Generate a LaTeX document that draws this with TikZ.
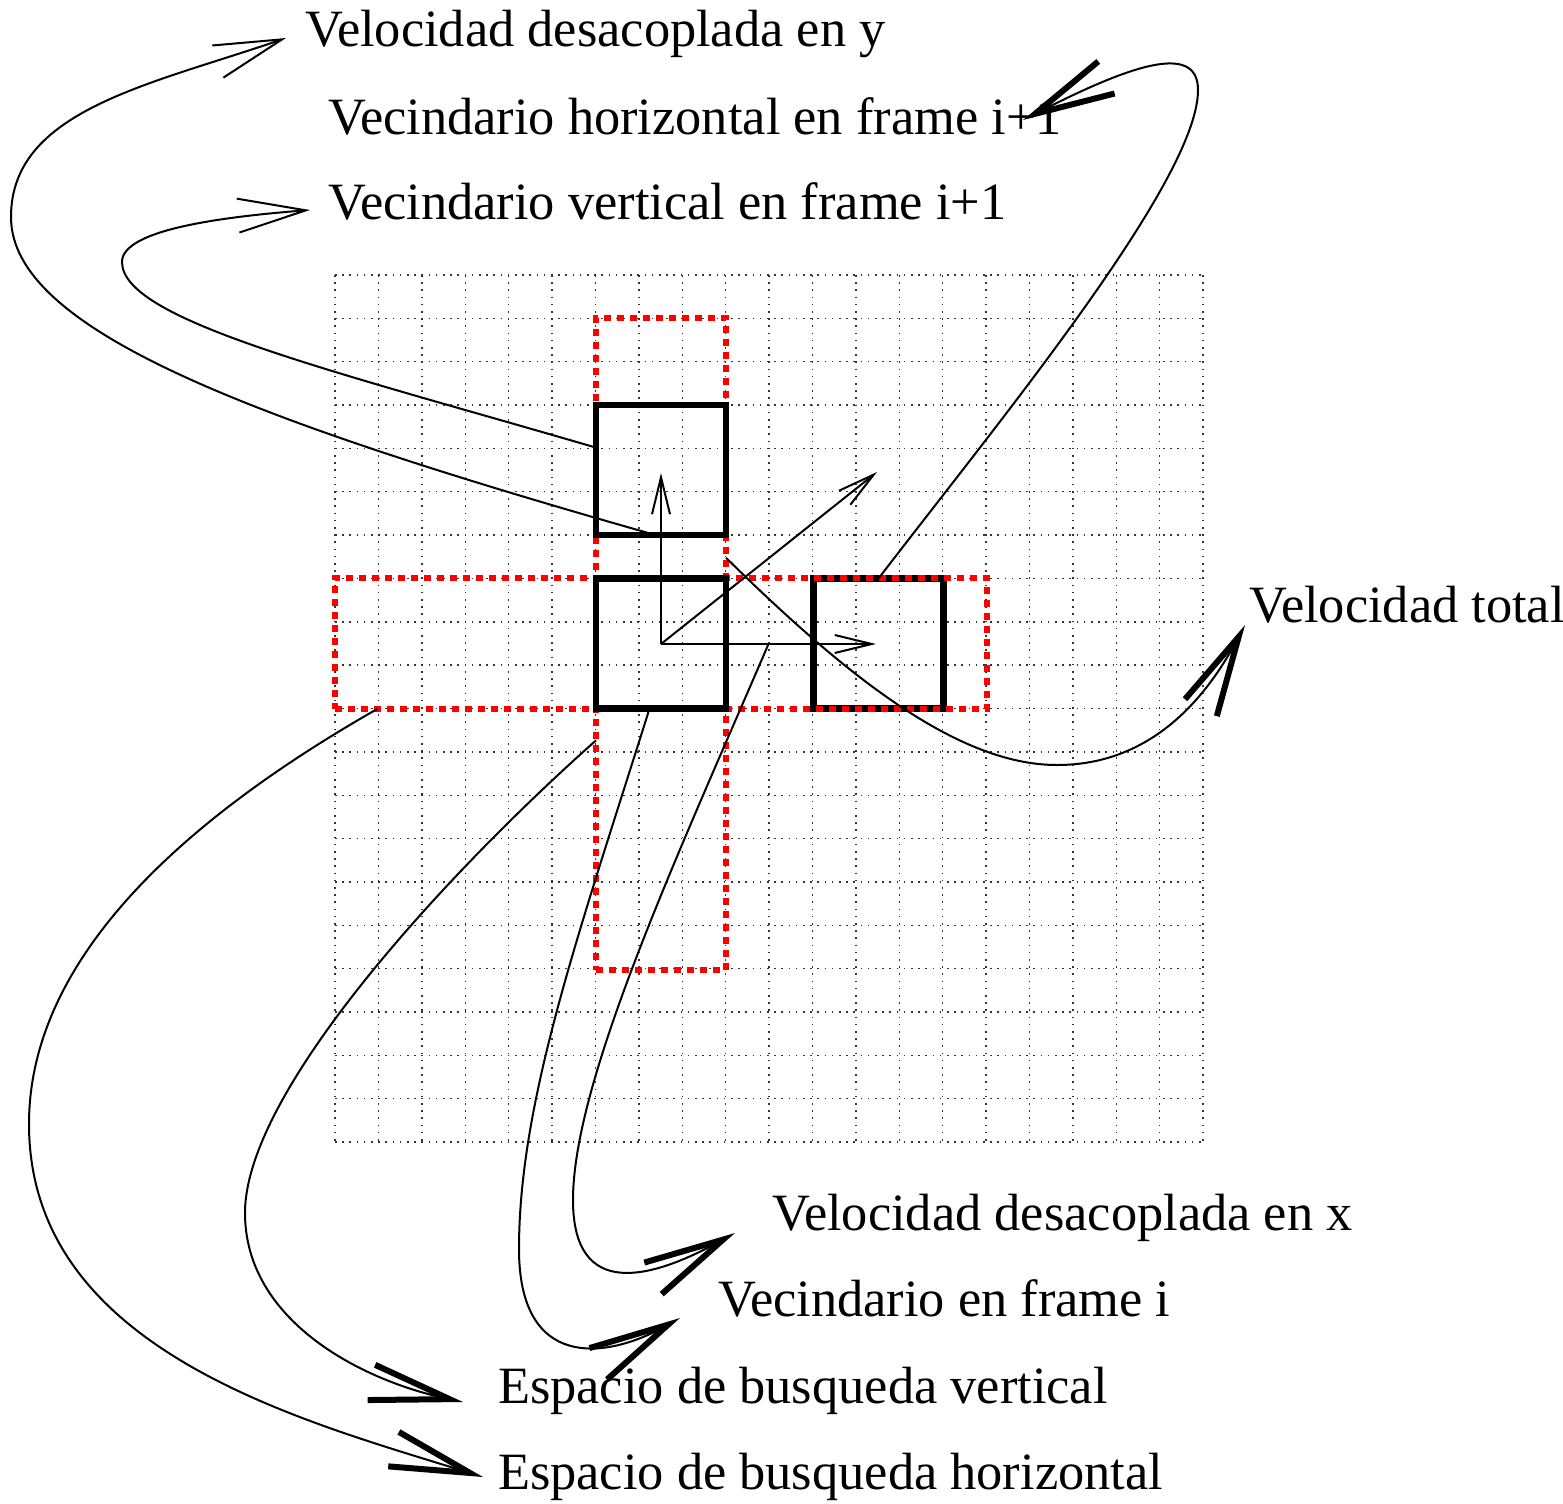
\documentclass[tikz,border=0pt]{standalone}
\usepackage{fontspec}
\setmainfont{Liberation Serif}
\usetikzlibrary{arrows.meta,calc}
\begin{document}
\begin{tikzpicture}[x=1pt,y=-1pt,
  gridline/.style={line width=1.4pt,black!80,dash pattern=on 1.5pt off 5.7pt},
  sq/.style={draw,line width=6.5pt,minimum width=130pt,minimum height=130pt,inner sep=0pt,outer sep=0pt},
  redbox/.style={draw=red,line width=6.5pt,dash pattern=on 7pt off 6pt,inner sep=0pt,outer sep=0pt},
  conn/.style={line width=2pt},
  thinhead/.style={-{Straight Barb[length=68pt,width=34pt,sharp]}},
  thickhead/.style={-{Straight Barb[length=80pt,width=36pt,line width=6pt,sharp]}},
  smallhead/.style={-{Straight Barb[length=37pt,width=18pt,sharp]}},
  lbl/.style={anchor=base west,inner sep=0pt,outer sep=0pt,font=\fontsize{52.4}{60}\selectfont}
]
\useasboundingbox (0,0) rectangle (1563,1504);

% grid
\foreach \i in {0,...,20}{
  \draw[gridline] ({335+43.4*\i},275) -- ({335+43.4*\i},1142);
  \draw[gridline] (335,{275+43.35*\i}) -- (1203,{275+43.35*\i});
}

% right square (below the red dots)
\node[sq] (sqR) at (878.5,643.5) {};
% red search spaces
\node[redbox,minimum width=130pt,minimum height=652pt] (redV) at (661,644) {};
\node[redbox,minimum width=652pt,minimum height=131pt] (redH) at (661,643.5) {};
% top and central squares
\node[sq] (sqTop) at (661,470) {};
\node[sq] (sqC) at (661,643.5) {};

% velocity arrows
\coordinate (o) at (661,644);
\coordinate (vy) at (661,473);
\coordinate (vx) at (876,644);
\coordinate (vt) at (877,472);
\coordinate (hmid) at ($(o)!0.5!(vx)$);
\draw[conn,smallhead] (o) -- (vy);
\draw[conn,smallhead] (o) -- (vx);
\draw[conn,smallhead] (o) -- (vt);

% labels
\node[lbl] (tA) at (305,47) {Velocidad desacoplada en y};
\node[lbl] (tC) at (328,134) {Vecindario horizontal en frame i+1};
\node[lbl] (tB) at (328,219) {Vecindario vertical en frame i+1};
\node[lbl] (tD) at (1249,622) {Velocidad total};
\node[lbl] (tE) at (772,1230) {Velocidad desacoplada en x};
\node[lbl] (tF) at (718,1316) {Vecindario en frame i};
\node[lbl] (tG) at (498,1403) {Espacio de busqueda vertical};
\node[lbl] (tH) at (498,1489) {Espacio de busqueda horizontal};

% arrow tips
\coordinate (aA) at (286,38);
\coordinate (aB) at (310,210);
\coordinate (aC) at (1023,120);
\coordinate (aD) at (1245,625);
\coordinate (aE) at (735,1233);
\coordinate (aF) at (680,1318);
\coordinate (aG) at (463,1402);
\coordinate (aH) at (483,1477);

% connectors
\draw[conn,thinhead] (sqTop.265) .. controls (250,420) and (11,330) .. (11,217)
   .. controls (11,110) and (150,85) .. (aA);
\draw[conn,thinhead] (sqTop.161) .. controls (330,370) and (122,320) .. (122,262)
   .. controls (122,230) and (220,217) .. (aB);
\draw[conn,thickhead] (sqR.north) .. controls (1000,420) and (1198,180) .. (1198,90)
   .. controls (1198,40) and (1125,68) .. (aC);
\draw[conn,thickhead] (redV.53) .. controls (850,680) and (960,765) .. (1057,765)
   .. controls (1150,765) and (1205,700) .. (aD);
\draw[conn,thickhead] (hmid) .. controls (680,850) and (573,1080) .. (573,1200)
   .. controls (573,1300) and (650,1280) .. (aE);
\draw[conn,thickhead] (sqC.260.5) .. controls (580,930) and (519,1100) .. (519,1249)
   .. controls (519,1370) and (605,1360) .. (aF);
\draw[conn,thickhead] (redV.236.4) .. controls (450,870) and (245,1090) .. (245,1213)
   .. controls (245,1320) and (360,1380) .. (aG);
\draw[conn,thickhead] (redH.193) .. controls (200,810) and (29,950) .. (29,1124)
   .. controls (29,1350) and (300,1420) .. (aH);
\end{tikzpicture}
\end{document}
